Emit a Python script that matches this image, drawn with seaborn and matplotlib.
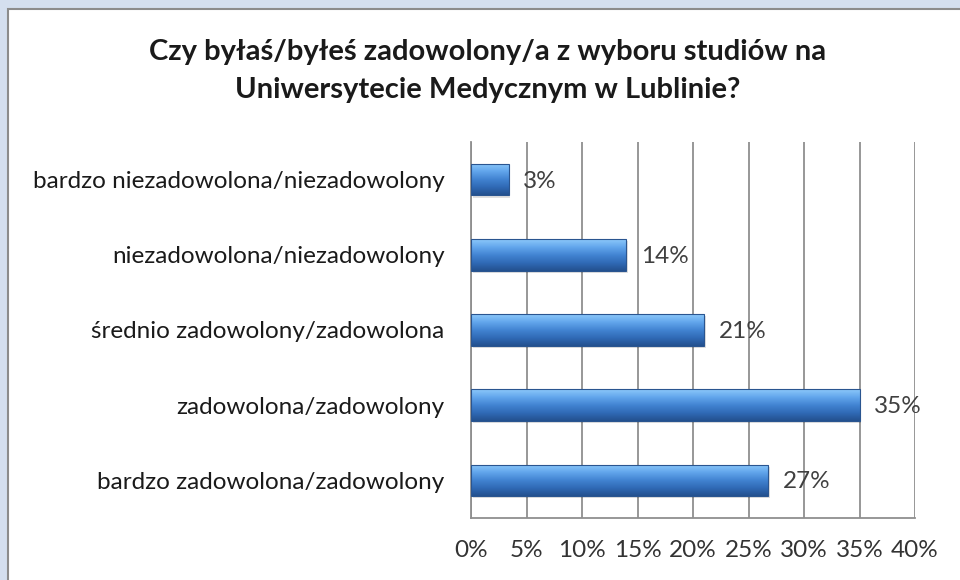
import numpy as np
import pandas as pd
import matplotlib
matplotlib.use("Agg")
import matplotlib.pyplot as plt
import seaborn as sns
from matplotlib.colors import LinearSegmentedColormap
from matplotlib.patches import Rectangle

categories = [
    "bardzo niezadowolona/niezadowolony",
    "niezadowolona/niezadowolony",
    "średnio zadowolony/zadowolona",
    "zadowolona/zadowolony",
    "bardzo zadowolona/zadowolony",
]
values = [3.4, 14.0, 21.0, 35.0, 26.8]
value_labels = ["3%", "14%", "21%", "35%", "27%"]
xticks = [0, 5, 10, 15, 20, 25, 30, 35, 40]
xtick_labels = ["0%", "5%", "10%", "15%", "20%", "25%", "30%", "35%", "40%"]
title = "Czy byłaś/byłeś zadowolony/a z wyboru studiów na\nUniwersytecie Medycznym w Lublinie?"

sns.set_theme(style="white")
plt.rcParams["font.family"] = ["Lato", "DejaVu Sans"]

df = pd.DataFrame({"cat": categories, "val": values})

fig = plt.figure(figsize=(9.6, 5.8), dpi=100)
fig.patch.set_facecolor("#d4dfef")
# white panel with gray border
panel = Rectangle((8 / 960, -0.01), 1.0, 1 - 9 / 580 + 0.01, transform=fig.transFigure,
                  facecolor="white", edgecolor="#8c8c8c", linewidth=1.5, zorder=-5)
fig.patches.append(panel)

ax = fig.add_axes([471 / 960, 1 - 518 / 580, (915 - 471) / 960, (518 - 142) / 580])
ax.set_facecolor("none")
ax.set_zorder(2)

sns.barplot(data=df, x="val", y="cat", orient="h", color="#3d7cc9",
            width=0.42, ax=ax, zorder=3, saturation=1)

cmap = LinearSegmentedColormap.from_list(
    "bar", ["#8cc8fa", "#62a6ec", "#4284d2", "#306ab6", "#23508e"])
grad = np.linspace(0, 1, 64).reshape(-1, 1)
for p in list(ax.patches):
    x0, y0 = p.get_x(), p.get_y()
    w, h = p.get_width(), p.get_height()
    p.set_facecolor("none")
    p.set_edgecolor("#2a5590")
    p.set_linewidth(0.8)
    im = ax.imshow(grad, cmap=cmap, aspect="auto",
                   extent=(x0, x0 + w, y0 + h, y0), zorder=2.5,
                   interpolation="bilinear")
    im.set_clip_path(p)
    sh = Rectangle((x0 + 0.15, y0 + 0.03), w, h, facecolor="#000000",
                   alpha=0.12, edgecolor="none", zorder=2)
    ax.add_patch(sh)

for i, (v, lab) in enumerate(zip(values, value_labels)):
    ax.text(v + 1.3, i + 0.02, lab, va="center", ha="left", fontsize=17.5,
            color="#404040", zorder=4)

ax.set_xlim(0, 40)
ax.set_ylim(4.5, -0.5)
ax.set_xticks(xticks)
ax.set_xticklabels(xtick_labels, fontsize=17.5, color="#333333")
ax.tick_params(axis="y", labelsize=17.5, colors="#1a1a1a", length=0, pad=19)
ax.tick_params(axis="x", length=0, pad=16)
ax.set_xlabel("")
ax.set_ylabel("")
ax.grid(axis="x", color="#8f8f8f", linewidth=1.3, zorder=1)
ax.grid(axis="y", visible=False)
ax.set_axisbelow(True)
for s in ["top", "right"]:
    ax.spines[s].set_visible(False)
ax.spines["bottom"].set_color("#8f8f8f")
ax.spines["bottom"].set_linewidth(1.3)
ax.spines["left"].set_color("#8f8f8f")
ax.spines["left"].set_linewidth(1.3)

fig.text(488 / 960, 1 - 71 / 580, title, ha="center", va="center",
         fontsize=21, fontweight="bold", color="#1a1a1a", linespacing=1.55)

fig.savefig("out.png", dpi=100, facecolor=fig.get_facecolor())
